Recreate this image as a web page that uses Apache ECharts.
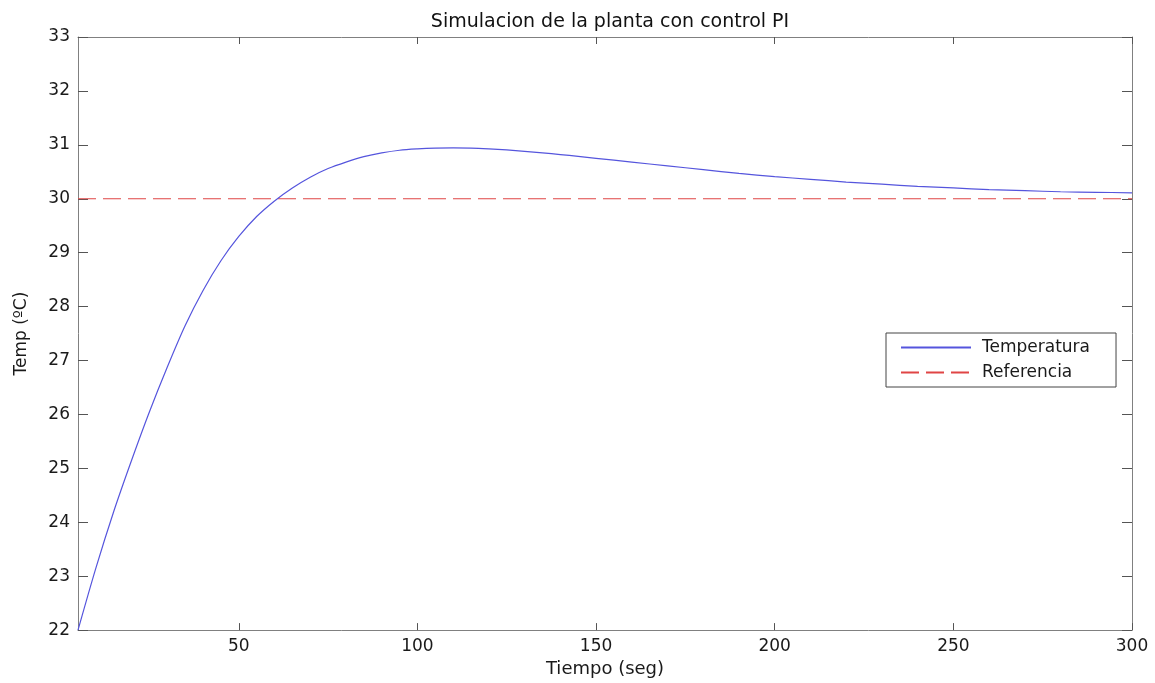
<!DOCTYPE html>
<html>
<head>
<meta charset="utf-8">
<script src="https://cdn.jsdelivr.net/npm/echarts@6/dist/echarts.min.js"></script>
<style>
  html, body { margin: 0; padding: 0; background: #fff; }
  #chart { width: 1155px; height: 683px; }
</style>
</head>
<body>
<div id="chart"></div>
<script>
// datos
const timeSeg = [5, 10, 15, 20, 25, 30, 35, 40, 45, 50, 55, 60, 65, 70, 75, 80, 85, 90, 95, 100,
  105, 110, 115, 120, 125, 130, 135, 140, 145, 150, 160, 170, 180, 190, 200, 210, 220, 230, 240, 250,
  260, 270, 280, 290, 300];
const temperatura = [22, 23.15, 24.2, 25.15, 26.05, 26.88, 27.65, 28.3, 28.85, 29.3, 29.67, 29.96, 30.2, 30.4, 30.56, 30.68, 30.78, 30.85, 30.9, 30.925,
  30.94, 30.945, 30.94, 30.925, 30.905, 30.88, 30.85, 30.82, 30.785, 30.75, 30.68, 30.61, 30.54, 30.47, 30.41, 30.36, 30.31, 30.27, 30.23, 30.2,
  30.17, 30.15, 30.13, 30.12, 30.11];
const refTime = [5, 300];
const referencia = [30, 30];
const xTicks = [50, 100, 150, 200, 250, 300];
const yRange = [22, 33];

const font = "DejaVu Sans";
const axisColor = "#808080";
const tickColor = "#555";
const labelStyle = { color: "#1a1a1a", fontSize: 17, fontFamily: font };

const chart = echarts.init(document.getElementById("chart"), null, { renderer: "canvas" });

function xAxisOpt(pos, showLabel) {
  return {
    type: "value",
    position: pos,
    min: refTime[0],
    max: refTime[1],
    axisLine: { show: true, lineStyle: { color: axisColor, width: 1 } },
    axisTick: { show: true, inside: true, length: 7, customValues: xTicks, lineStyle: { color: tickColor } },
    axisLabel: showLabel ? { ...labelStyle, margin: 8, customValues: xTicks } : { show: false },
    splitLine: { show: false },
    name: showLabel ? "Tiempo (seg)" : "",
    nameLocation: "middle",
    nameGap: 29,
    nameTextStyle: { ...labelStyle, fontSize: 18 },
  };
}

function yAxisOpt(pos, showLabel) {
  return {
    type: "value",
    position: pos,
    min: yRange[0],
    max: yRange[1],
    interval: 1,
    axisLine: { show: true, lineStyle: { color: axisColor, width: 1 } },
    axisTick: { show: true, inside: true, length: 10, lineStyle: { color: tickColor } },
    axisLabel: showLabel ? { ...labelStyle, margin: 8 } : { show: false },
    splitLine: { show: false },
    name: showLabel ? "Temp (ºC)" : "",
    nameLocation: "middle",
    nameGap: 48,
    nameTextStyle: { ...labelStyle },
  };
}

chart.setOption({
  animation: false,
  backgroundColor: "#fff",
  title: {
    text: "Simulacion de la planta con control PI",
    left: 605,
    textAlign: "center",
    top: 8,
    textStyle: { color: "#111", fontSize: 19, fontWeight: "normal", fontFamily: font },
  },
  grid: { left: 78, top: 37, right: 23, bottom: 47 },
  legend: {
    orient: "vertical",
    left: 886,
    top: 333,
    padding: [6, 26, 6, 14],
    itemGap: 8,
    itemWidth: 70,
    itemHeight: 14,
    backgroundColor: "#fff",
    borderColor: "#444",
    borderWidth: 1,
    borderRadius: 0,
    itemStyle: { opacity: 0 },
    textStyle: { ...labelStyle, padding: [0, 0, 0, 6] },
    data: ["Temperatura", "Referencia"],
  },
  xAxis: [xAxisOpt("bottom", true), xAxisOpt("top", false)],
  yAxis: [yAxisOpt("left", true), yAxisOpt("right", false)],
  series: [
    {
      name: "Temperatura",
      type: "line",
      symbol: "none",
      smooth: 0.3,
      lineStyle: { color: "#5555dd", width: 1.2 },
      itemStyle: { color: "#5555dd" },
      data: timeSeg.map((t, i) => [t, temperatura[i]]),
      z: 3,
    },
    {
      name: "Referencia",
      type: "line",
      symbol: "none",
      lineStyle: { color: "#e04545", width: 1.2, type: [18, 7] },
      itemStyle: { color: "#e04545" },
      data: refTime.map((t, i) => [t, referencia[i]]),
      z: 2,
    },
  ],
});
</script>
</body>
</html>
